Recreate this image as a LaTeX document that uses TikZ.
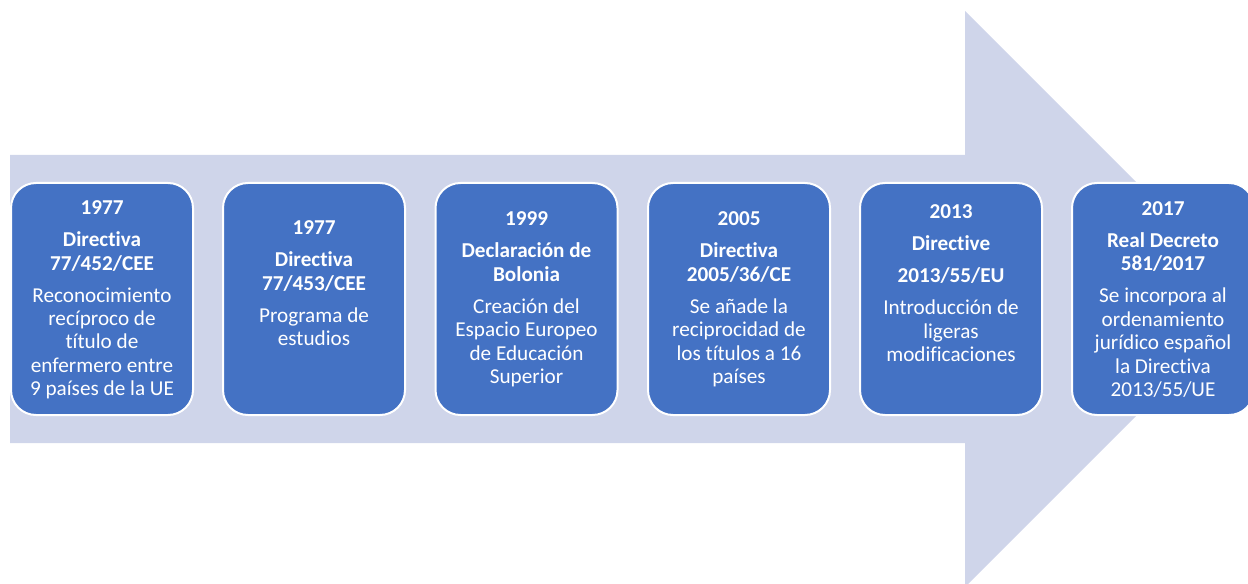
\documentclass[tikz,border=0pt]{standalone}
\usepackage{fontspec}
\setmainfont{Carlito}[Ligatures={NoCommon}]
\definecolor{lav}{HTML}{CFD5EA}
\definecolor{blu}{HTML}{4472C4}
\begin{document}
\begin{tikzpicture}[x=0.75pt,y=-0.75pt,
  box/.style={draw=white, line width=1.5pt, fill=blu, rounded corners=18.75pt,
    minimum width=136.5pt, minimum height=174pt, inner sep=0pt},
  lbl/.style={text=white, align=center, inner sep=0pt,
    font=\fontsize{15.9}{17.6}\selectfont}]
\useasboundingbox (0,0) rectangle (1248,584);
\begin{scope}
\clip (0,0) rectangle (1248,584);
\fill[lav] (10,155) -- (965,155) -- (965,11) -- (1253,299) -- (965,587) -- (965,443) -- (10,443) -- cycle;
\node[box] (b1) at (102,299) {};
\node[box] (b2) at (314,299) {};
\node[box] (b3) at (526.5,299) {};
\node[box] (b4) at (739,299) {};
\node[box] (b5) at (951,299) {};
\node[box] (b6) at (1163,299) {};
\end{scope}
\node[lbl] (t1) at (102,300) {\textbf{1977}\\[6.4pt]\textbf{Directiva}\\\textbf{77/452/CEE}\\[6.4pt]Reconocimiento\\recíproco de\\título de\\enfermero entre\\9 países de la UE};
\node[lbl] (t2) at (314,283.5) {\textbf{1977}\\[6.4pt]\textbf{Directiva}\\\textbf{77/453/CEE}\\[6.4pt]Programa de\\estudios};
\node[lbl] (t3) at (526.5,299.5) {\textbf{1999}\\[6.4pt]\textbf{Declaración de}\\\textbf{Bolonia}\\[6.4pt]Creación del\\Espacio Europeo\\de Educación\\Superior};
\node[lbl] (t4) at (739,299.5) {\textbf{2005}\\[6.4pt]\textbf{Directiva}\\\textbf{2005/36/CE}\\[6.4pt]Se añade la\\reciprocidad de\\los títulos a 16\\países};
\node[lbl] (t5) at (951,283.5) {\textbf{2013}\\[6.4pt]\textbf{Directive}\\[6.4pt]\textbf{2013/55/EU}\\[6.4pt]Introducción de\\ligeras\\modificaciones};
\node[lbl] (t6) at (1163,299.5) {\textbf{2017}\\[6.4pt]\textbf{Real Decreto}\\\textbf{581/2017}\\[6.4pt]Se incorpora al\\ordenamiento\\jurídico español\\la Directiva\\2013/55/UE};
\end{tikzpicture}
\end{document}
